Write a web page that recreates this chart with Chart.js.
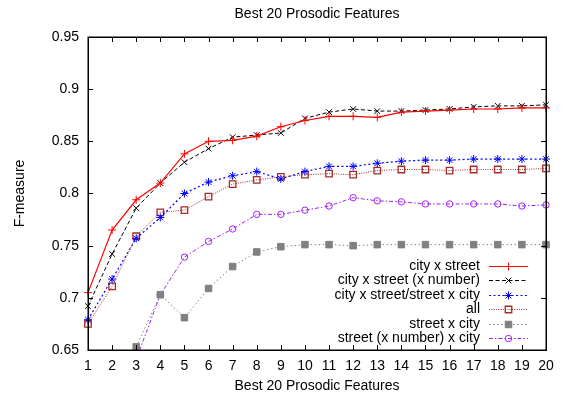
<!DOCTYPE html>
<html>
<head>
<meta charset="utf-8">
<script src="https://cdn.jsdelivr.net/npm/chart.js@4/dist/chart.umd.min.js"></script>
<style>
html,body{margin:0;padding:0;background:#fff;}
#wrap{width:563px;height:396px;}
</style>
</head>
<body>
<div id="wrap"><canvas id="c" width="563" height="396"></canvas></div>
<script>
// ---- data ----
const features = [1,2,3,4,5,6,7,8,9,10,11,12,13,14,15,16,17,18,19,20];
const yTickValues = [0.65,0.7,0.75,0.8,0.85,0.9,0.95];
const yTickLabels = ["0.65","0.7","0.75","0.8","0.85","0.9","0.95"];
const seriesNames = ["city x street","city x street (x number)","city x street/street x city","all","street x city","street (x number) x city"];
const cityStreet      = [0.705,0.765,0.794,0.810,0.838,0.850,0.851,0.855,0.864,0.870,0.874,0.874,0.873,0.878,0.879,0.880,0.881,0.881,0.882,0.882];
const cityStreetNum   = [0.692,0.742,0.786,0.810,0.830,0.843,0.854,0.856,0.858,0.872,0.878,0.881,0.879,0.879,0.880,0.881,0.883,0.884,0.884,0.885];
const cityStreetBoth  = [0.679,0.718,0.757,0.777,0.800,0.811,0.817,0.821,0.814,0.821,0.826,0.826,0.829,0.831,0.832,0.832,0.833,0.833,0.833,0.833];
const allFeatures     = [0.675,0.711,0.759,0.782,0.784,0.797,0.809,0.813,0.816,0.818,0.819,0.818,0.822,0.823,0.823,0.822,0.823,0.823,0.823,0.824];
const streetCity      = [null,null,0.653,0.703,0.681,0.709,0.730,0.744,0.749,0.751,0.751,0.750,0.751,0.751,0.751,0.751,0.751,0.751,0.751,0.751];
const streetNumCity   = [null,null,0.641,0.703,0.739,0.754,0.766,0.780,0.780,0.784,0.788,0.796,0.793,0.792,0.790,0.790,0.790,0.790,0.788,0.789];
const titleText = "Best 20 Prosodic Features";
const xAxisTitle = "Best 20 Prosodic Features";
const yAxisTitle = "F-measure";

// ---- styles ----
const seriesValues = [cityStreet, cityStreetNum, cityStreetBoth, allFeatures, streetCity, streetNumCity];
const styles = [
  {color:'#ff0000', dash:[],          point:'cross',    r:4,   fill:'transparent', lw:1.2},
  {color:'#000000', dash:[4,2.5],     point:'crossRot', r:4,   fill:'transparent', lw:1},
  {color:'#0000ff', dash:[2,2.5],     point:'star',     r:4,   fill:'transparent', lw:1.2},
  {color:'#a52a2a', dash:[1,1.3],     point:'rect',     r:4.6, fill:'transparent', lw:1, plw:1.3},
  {color:'#808080', dash:[1.5,2.5],   point:'rect',     r:4.6, fill:'#808080',     lw:1},
  {color:'#a020f0', dash:[4,2,1.5,2], point:'circle',   r:3.2, fill:'transparent', lw:1}
];
const FONT = '"Liberation Sans", Arial, Helvetica, sans-serif';
Chart.defaults.font.family = FONT;
Chart.defaults.font.size = 14;
Chart.defaults.color = '#000';

const datasets = seriesValues.map((vals,i)=>({
  label: seriesNames[i],
  data: vals,
  borderColor: styles[i].color,
  backgroundColor: styles[i].fill,
  borderWidth: styles[i].lw,
  borderDash: styles[i].dash,
  pointStyle: styles[i].point,
  pointRadius: styles[i].r,
  pointBorderWidth: styles[i].plw || 1,
  pointBorderColor: styles[i].color,
  pointBackgroundColor: styles[i].fill,
  tension: 0,
  spanGaps: false,
  fill: false
}));

function drawMarker(ctx, style, x, y, r, color, fill, lw){
  ctx.save();
  ctx.setLineDash([]);
  ctx.strokeStyle = color; ctx.fillStyle = fill; ctx.lineWidth = lw;
  if (Chart.helpers && Chart.helpers.drawPoint) {
    Chart.helpers.drawPoint(ctx, {pointStyle: style, radius: r, rotation: 0, borderWidth: lw}, x, y);
  }
  ctx.restore();
}

const framePlugin = {
  id: 'frame',
  afterDatasetsDraw(chart){
    const ctx = chart.ctx, a = chart.chartArea;
    const xs = chart.scales.x, ys = chart.scales.y;
    ctx.save();
    ctx.setLineDash([]);
    ctx.strokeStyle = '#000';
    ctx.lineWidth = 1;
    const L = 5;
    ctx.beginPath();
    xs.ticks.forEach((t,i)=>{
      const px = Math.round(xs.getPixelForTick(i)) + 0.5;
      ctx.moveTo(px, a.bottom); ctx.lineTo(px, a.bottom - L);
      ctx.moveTo(px, a.top); ctx.lineTo(px, a.top + L);
    });
    ys.ticks.forEach((t)=>{
      const py = Math.round(ys.getPixelForValue(t.value)) + 0.5;
      ctx.moveTo(a.left, py); ctx.lineTo(a.left + L, py);
      ctx.moveTo(a.right, py); ctx.lineTo(a.right - L, py);
    });
    ctx.stroke();
    ctx.lineWidth = 1.5;
    ctx.strokeRect(Math.round(a.left)+0.25, Math.round(a.top)+0.25, Math.round(a.right - a.left), Math.round(a.bottom - a.top));
    ctx.restore();
  },
  afterDraw(chart){
    const ctx = chart.ctx, a = chart.chartArea;
    const n = chart.data.datasets.length;
    ctx.save();
    ctx.font = '14px ' + FONT;
    ctx.fillStyle = '#000';
    // chart title, centred over the plot area
    ctx.textAlign = 'center';
    ctx.textBaseline = 'middle';
    ctx.fillText(titleText, (a.left + a.right) / 2, 14.4);
    // legend inside the plot, gnuplot style
    ctx.textAlign = 'right';
    chart.data.datasets.forEach((ds,i)=>{
      const st = styles[i];
      const y = a.bottom - 11.7 - (n - 1 - i) * 14.46;
      ctx.fillText(ds.label, a.right - 66, y);
      ctx.save();
      ctx.strokeStyle = st.color; ctx.lineWidth = st.lw; ctx.setLineDash(st.dash);
      ctx.beginPath(); ctx.moveTo(a.right - 57, Math.round(y)+0.5); ctx.lineTo(a.right - 18, Math.round(y)+0.5); ctx.stroke();
      ctx.restore();
      drawMarker(ctx, st.point, a.right - 37.5, Math.round(y)+0.5, st.r, st.color, st.fill, st.plw || 1);
    });
    ctx.restore();
  }
};

new Chart(document.getElementById('c'), {
  type: 'line',
  data: { labels: features, datasets },
  options: {
    responsive: false,
    devicePixelRatio: 1,
    animation: false,
    events: [],
    layout: { padding: { left: 0, right: 17, top: 37, bottom: 0 } },
    plugins: {
      legend: { display: false },
      tooltip: { enabled: false },
      title: { display: false }
    },
    scales: {
      x: {
        type: 'category',
        offset: false,
        grid: { display: false, drawTicks: false },
        border: { display: false },
        ticks: { autoSkip: false, maxRotation: 0, padding: 8, font: { size: 14 } },
        title: { display: true, text: xAxisTitle, font: { size: 14 }, padding: { top: 0, bottom: 1 } },
        afterFit(s){ s.height = 46; }
      },
      y: {
        type: 'linear',
        min: 0.65, max: 0.95,
        afterBuildTicks(s){ s.ticks = yTickValues.map(v=>({value:v})); },
        grid: { display: false, drawTicks: false },
        border: { display: false },
        ticks: { padding: 9, font: { size: 14 }, callback(v){ const k = yTickValues.findIndex(t=>Math.abs(t-v)<1e-9); return k>=0 ? yTickLabels[k] : ''; } },
        title: { display: true, text: yAxisTitle, font: { size: 14 }, padding: { top: 11.6, bottom: 0 } },
        afterFit(s){ s.width = 88; }
      }
    }
  },
  plugins: [framePlugin]
});
</script>
</body>
</html>
